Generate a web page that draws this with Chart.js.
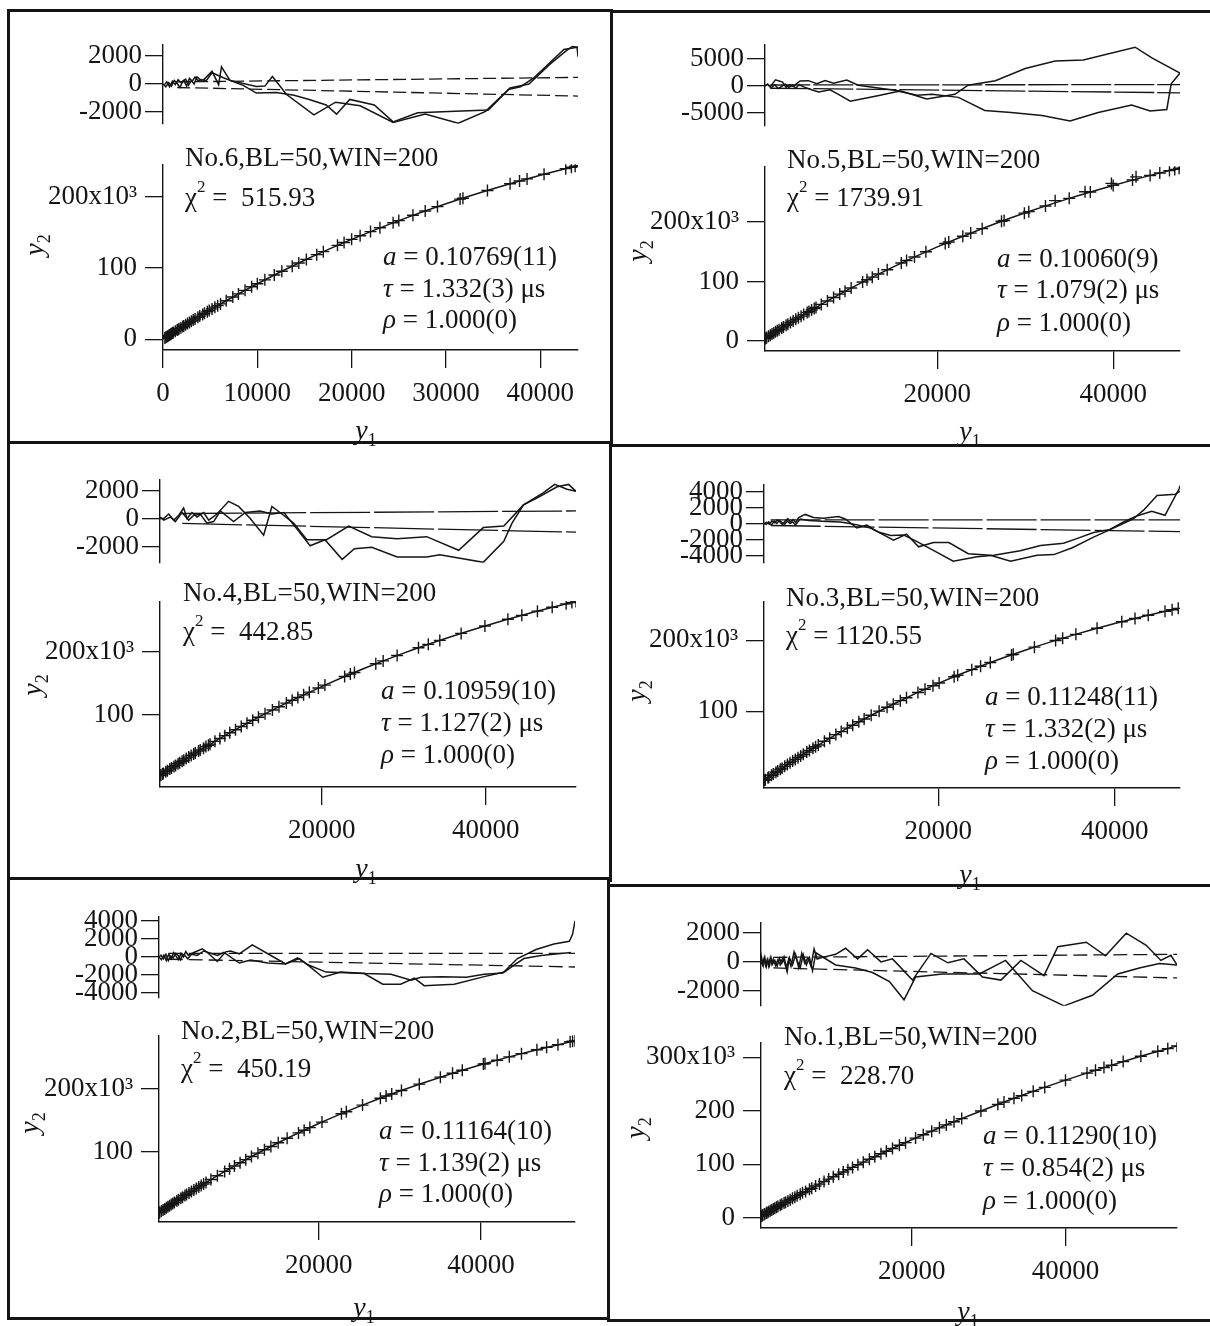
<!DOCTYPE html>
<html>
<head>
<meta charset="utf-8">
<title>fits</title>
<script src="https://cdn.jsdelivr.net/npm/chart.js@4.4.1/dist/chart.umd.min.js"></script>
<style>
  html, body { margin: 0; padding: 0; background: #fff; }
  #page { position: relative; width: 1210px; height: 1326px; overflow: hidden; background: #fff;
          font-family: "Liberation Serif", "Times New Roman", serif; color: #151515; }
  #page canvas { position: absolute; }
  .bar { position: absolute; background: #151515; }
  .note { position: absolute; font-size: 27px; line-height: 30px; height: 30px; white-space: nowrap; z-index: 5; }
  .note sup { font-size: 17px; line-height: 0; vertical-align: 14px; }
  .lab { position: absolute; font-size: 28px; line-height: 30px; width: 40px; height: 30px; text-align: center; white-space: nowrap; z-index: 5; }
  .lab sub { font-size: 18px; font-style: normal; line-height: 0; vertical-align: -7px; }
  .rot { transform: rotate(-90deg); }
</style>
</head>
<body>
<div id="page"></div>
<script>
// ---- panel No.6 (top left) ----
const p6X = [200,400,600,800,1000,1300,1600,1900,2200,2600,3000,3400,3900,4400,4900,5500,6100,6700,7400,8000,8700,9400,10000,10800,11800,12600,13700,14400,15200,16300,17000,18500,19200,20000,20900,22000,23000,24400,25000,26500,27800,29100,31500,31800,34400,36800,37800,38600,40400,42700,43300,43700];
const p6Y = [1700,3500,5200,6900,8600,11100,13600,16100,18600,21900,25200,28400,32400,36300,40200,44900,49500,53900,59200,63500,68500,73500,77700,83200,89900,95200,102400,106800,111800,118500,122700,131500,135400,139900,144900,150800,156100,163200,166200,173600,179700,185800,196300,197600,208400,217900,221600,224600,231100,239000,241000,242300];
const p6DenseX = [300,500,700,900,1100,1500,1700,2100,2400,2800,3200,3700,4200,4700,5200,5800];
const p6DenseY = [2600,4300,6000,7700,9400,12800,14500,17800,20200,23500,26800,30800,34700,38600,42500,47000];
const p6FitX = [0,2000,5000,10000,15000,20000,25000,30000,35000,40000,44000];
const p6FitY = [0,17000,41000,77700,110600,139900,166200,189800,210800,229700,243300];
const p6ResAx = [100,400,700,1000,1300,1600,1900,2200,2500,2800,3100,3400,3700,4300,5200,5900,6200,7100,9900,10800,11600,13100,16000,18300,20900,24400,27800,31300,34200,36600,37900,39300,42500,43900,44000];
const p6ResAy = [-100,150,-200,200,-50,300,100,250,-150,400,200,500,250,300,900,-50,1230,260,-170,-150,540,-750,-2200,-1300,-1550,-2750,-2150,-2800,-1950,-400,-200,430,2470,2620,1950];
const p6ResBx = [0,300,600,900,1200,1500,1800,2100,2400,2700,3000,3300,3600,4000,4600,5200,6400,8500,9900,12000,13900,15500,17300,18400,19800,22400,24400,27000,31000,34500,36800,38800,41000,42800,43400,44000];
const p6ResBy = [0,-200,100,-150,250,50,-250,200,350,-100,250,0,500,300,250,800,450,-100,-650,-600,-800,-1100,-1500,-2150,-1100,-1500,-2700,-2050,-1950,-1850,-280,0,1400,2400,2680,2620];
const p6BandX = [1500,44000];
const p6BandUp = [150,470];
const p6BandLow = [-250,-860];
const p6ResTicks = [-2000,0,2000];
const p6YTicks = [0,100000,200000];
const p6YLabels = ['0','100','200x10\u00b3'];
const p6XTicks = [0,10000,20000,30000,40000];

// ---- panel No.5 (top right) ----
const p5X = [400,600,1000,1400,1800,2300,2800,3300,3900,4500,5200,5700,6200,6800,7500,8200,8900,9500,10200,11500,12000,12600,13300,14300,15900,16500,17400,18700,20900,21300,22900,23800,25100,27300,27600,29900,30400,32300,33400,35000,36800,37400,39800,40000,42200,42600,44200,45300,46400,47000,47500];
const p5Y = [3900,5800,9600,13400,17200,21800,26400,31000,36400,41700,47800,52100,56400,61500,67300,73000,78800,83700,89100,99100,102900,107300,112500,119800,131000,135200,141300,149900,164000,166500,176100,181400,188900,201200,202600,214900,217500,226900,236000,239800,251000,250500,265000,261600,270600,276000,278300,282400,286500,288500,290400];
const p5DenseX = [500,800,1200,1600,2000,2500,3000,3600,4200,4800,5400,6000];
const p5DenseY = [4800,7700,11500,15300,19000,23600,28200,33600,39000,44300,49400,54600];
const p5FitX = [400,5000,10000,15000,20000,25000,30000,35000,40000,45000,47600];
const p5FitY = [3900,46100,87500,124700,158300,188400,215500,239800,261600,281400,290800];
const p5ResAx = [400,700,1000,1300,1600,2000,2400,2800,3200,3600,4000,4400,5340,6300,7230,8200,9700,11000,15950,18800,22000,23500,26600,30000,33400,36600,42500,44400,47600];
const p5ResAy = [0,300,-200,500,1100,900,700,-300,200,-100,400,900,955,400,955,500,1070,112,-1010,-2420,-1570,112,955,3200,4610,4780,7140,5170,2360];
const p5ResBx = [400,700,1100,1500,1900,2300,2700,3100,3500,3900,4300,4800,5700,6500,7800,8750,10100,13500,15600,17700,19400,22400,25400,28400,31900,35100,38300,42100,44200,46100,46600,47600];
const p5ResBy = [0,300,-400,200,-500,-100,300,-300,100,-400,200,-200,-730,-1120,-730,-1570,-2860,-1740,-1010,-1740,-1570,-2140,-4550,-4950,-5510,-6520,-4950,-3540,-4660,-4380,360,2360];
const p5BandX = [1000,47600];
const p5BandUp = [150,230];
const p5BandLow = [-450,-1290];
const p5ResTicks = [-5000,0,5000];
const p5YTicks = [0,100000,200000];
const p5YLabels = ['0','100','200x10\u00b3'];
const p5XTicks = [20000,40000];

// ---- panel No.4 (middle left) ----
const p4X = [300,600,1000,1500,2000,2500,3000,3500,4100,4600,5200,5900,6400,7000,7600,8200,8800,9500,10200,10900,11600,12300,13100,14000,14800,15700,16400,17100,17800,18500,19600,20400,22800,23500,24000,26600,27500,29200,31800,33000,34400,37000,39900,42700,44400,46300,48100,49800,50500,51000];
const p4Y = [2600,5200,8700,13000,17200,21400,25600,29700,34600,38600,43400,48900,52800,57300,61900,66400,70900,75900,81000,86000,90900,95700,101200,107200,112500,118300,122800,127200,131500,135800,142400,147100,160800,164600,167300,181100,185700,194200,206600,212100,218400,229600,241400,252100,258400,265100,271300,276800,278900,280700];
const p4DenseX = [400,700,1200,1700,2200,2700,3200,3800,4400,5000,5600,6200];
const p4DenseY = [3500,6100,10400,14700,18900,23100,27200,32100,36900,41700,46400,51100];
const p4FitX = [300,5000,10000,15000,20000,25000,30000,35000,40000,45000,51000];
const p4FitY = [2600,41800,79600,113800,144700,172700,198100,221000,241800,260500,280700];
const p4ResAx = [300,750,1360,1970,2570,3180,3590,4200,4810,5620,6230,7240,8660,9880,11300,12930,13940,15160,16580,18200,20600,23300,26100,29200,32800,36700,39700,42200,44600,47000,48400,49900,51000];
const p4ResAy = [0,0,323,-108,215,753,0,430,108,430,-108,323,1226,860,0,-1183,860,323,-323,-1505,-1505,-538,-1290,-1440,-1290,-2258,-645,-538,968,1828,2430,2086,1935];
const p4ResBx = [300,750,1560,2170,2980,3790,4400,5210,6020,6840,7650,9270,10700,12500,13940,15400,17000,18600,20400,22500,24000,26100,29200,32800,34400,39700,42200,43200,44600,46400,48700,50100,51000];
const p4ResBy = [100,-108,108,-215,430,-108,215,323,-323,-215,538,-215,430,538,323,430,-753,-1935,-1505,-2903,-2150,-2043,-2731,-2731,-2580,-3118,-1613,-323,968,1505,2258,2430,1935];
const p4BandX = [3000,51000];
const p4BandUp = [360,540];
const p4BandLow = [-350,-970];
const p4ResTicks = [-2000,0,2000];
const p4YTicks = [100000,200000];
const p4YLabels = ['100','200x10\u00b3'];
const p4XTicks = [20000,40000];

// ---- panel No.3 (middle right) ----
const p3X = [300,700,1100,1600,2100,2600,3200,3800,4400,5100,5800,6400,7100,7700,8400,9000,9700,10300,11000,11600,12400,13300,14200,14900,15700,16400,17700,18500,19400,20100,21800,22200,23800,24800,25900,28300,28500,30900,33300,34100,35600,38000,40800,42300,43800,45700,46500,47200];
const p3Y = [2600,6100,9600,13900,18100,22200,27200,32000,36800,42300,47700,52300,57500,61900,67000,71200,76100,80200,85000,89000,94200,100000,105600,109900,114800,118900,126400,130900,135900,139600,148500,150600,158500,163300,168500,179300,180100,190200,199700,202800,208300,216800,226000,230700,235300,240700,243000,244900];
const p3DenseX = [400,800,1300,1800,2300,2900,3500,4100,4700,5400,6100];
const p3DenseY = [3500,7000,11300,15500,19700,24700,29600,34400,39100,44500,49800];
const p3FitX = [250,5000,10000,15000,20000,25000,30000,35000,40000,45000,47300];
const p3FitY = [2200,41500,78200,110500,139100,164300,186500,206100,223500,238800,245200];
const p3ResAx = [250,550,850,1150,1450,1750,2050,2350,2650,2950,3250,3550,3850,4170,4920,5860,6990,8700,9450,10780,11910,13000,14930,16400,17770,19470,21200,23400,25900,28200,31200,33100,35200,37600,39100,41000,42500,44200,45700,47300,47400];
const p3ResAy = [0,150,-100,300,100,450,200,-150,300,600,200,500,100,754,1131,754,641,867,566,-566,-189,-943,-2074,-1320,-2903,-2375,-2375,-3770,-3960,-4710,-3960,-3880,-3016,-1697,-943,189,943,1508,1018,4335,4710];
const p3ResBx = [250,500,800,1100,1400,1700,2000,2300,2600,2900,3200,3500,3800,4350,5300,7400,8900,10000,11200,12300,13400,14600,16100,17600,19500,21700,24400,26300,29300,31600,34200,35700,37600,39500,42100,43300,44800,46900,47400];
const p3ResBy = [0,-100,200,-200,300,0,400,100,-100,300,0,200,-200,566,377,264,189,0,-264,-566,-1131,-1508,-1433,-2262,-3393,-4710,-4147,-3960,-3393,-2752,-2450,-1885,-1131,-754,566,1697,3506,3657,4034];
const p3BandX = [1000,47400];
const p3BandUp = [450,450];
const p3BandLow = [-250,-1018];
const p3ResTicks = [-4000,-2000,0,2000,4000];
const p3YTicks = [100000,200000];
const p3YLabels = ['100','200x10\u00b3'];
const p3XTicks = [20000,40000];

// ---- panel No.2 (bottom left) ----
const p2X = [300,600,1000,1400,1800,2200,2700,3200,3700,4300,4900,5500,6100,6700,7500,8400,9000,9600,10300,11000,11700,12500,13300,14100,15000,16100,17500,18200,18900,20400,22800,23400,25400,27600,28300,29000,30200,32400,35000,36500,37700,40300,40500,42000,43500,45000,46900,48100,49500,51000,51300,51600];
const p2Y = [2700,5300,8800,12300,15700,19100,23400,27500,31600,36600,41400,46200,50900,55500,61600,68400,72800,77100,82200,87100,92000,97400,102800,108100,113900,121000,129600,133900,138000,146800,160100,163300,173800,184800,188200,191500,197100,207100,218200,224400,229100,239000,239800,245200,250500,255600,261800,265600,269900,274400,275300,276200];
const p2DenseX = [400,800,1200,1600,2000,2500,3000,3500,4000,4600,5200,5800];
const p2DenseY = [3500,7100,10500,14000,17400,21700,25800,30000,34100,38900,43700,48400];
const p2FitX = [300,5000,10000,15000,20000,25000,30000,35000,40000,45000,51600];
const p2FitY = [2700,42200,80000,113900,144500,171700,196200,218200,237900,255600,276200];
const p2ResAx = [300,600,900,1200,1500,1800,2100,2400,2700,3000,3300,3600,3900,4600,5640,6260,7490,8520,9140,10200,11800,14100,15900,17400,18600,20500,22700,25800,28900,31400,32600,35100,38200,40400,42700,44500,46800,49000,50900,51300,51600];
const p2ResAy = [0,-300,200,-400,300,-200,500,100,-300,400,0,600,200,504,907,504,-504,571,672,336,1344,168,-773,-101,-840,-2251,-1680,-1848,-1915,-2587,-2251,-2184,-2251,-1915,-1781,-168,840,1445,1747,2520,4032];
const p2ResBx = [300,550,850,1150,1450,1750,2050,2350,2650,2950,3250,3550,3850,4300,5000,5840,7490,8310,10200,11600,13700,15900,17600,18600,20900,25600,27900,30100,31800,33000,36700,40400,42900,43900,45300,47400,51100];
const p2ResBy = [0,200,-200,300,-400,100,-100,400,200,-300,300,100,-200,300,168,672,168,504,-672,-336,-672,-773,-168,-840,-1680,-1848,-3024,-3024,-2352,-3192,-3024,-2184,-1680,-1008,-168,168,504];
const p2BandX = [1500,51600];
const p2BandUp = [400,400];
const p2BandLow = [-250,-1110];
const p2ResTicks = [-4000,-2000,0,2000,4000];
const p2YTicks = [100000,200000];
const p2YLabels = ['100','200x10\u00b3'];
const p2XTicks = [20000,40000];

// ---- panel No.1 (bottom right) ----
const p1X = [400,600,900,1200,1600,2000,2400,2900,3400,3900,4500,5100,5800,6700,7500,8000,8600,9200,9800,10500,11100,11700,12300,13000,13700,14500,15200,16000,16700,17500,18400,19200,20500,21500,22600,23600,24500,25500,26500,29000,31200,32000,33300,34300,35800,37300,40000,42800,43900,45000,46000,47500,49800,52000,53300,54500];
const p1Y = [3300,5000,7500,9900,13200,16500,19700,23700,27800,31800,36600,41400,46900,53300,59700,63100,67900,72500,76900,81500,85800,90100,94300,99200,104100,109500,114100,119800,124400,129600,135600,140500,149000,155200,162000,168100,173600,179400,185400,199700,212000,216200,223200,228300,236300,243600,257200,270300,275700,280600,285000,291800,301700,311000,316100,321100];
const p1DenseX = [500,800,1100,1400,1800,2200,2600,3100,3600,4200,4800,5500,6200,7000];
const p1DenseY = [4100,6600,9100,11500,14800,18000,21300,25300,29200,34000,38700,44100,49400,55500];
const p1FitX = [400,5000,10000,15000,20000,25000,30000,35000,40000,45000,50000,54500];
const p1FitY = [3300,40200,77900,113000,145900,176600,205300,232200,257200,280600,302600,321100];
const p1ResAx = [400,600,800,1000,1200,1400,1600,1800,2000,2300,2600,2900,3200,3500,3800,4100,4500,4900,5300,5700,6100,6500,6900,7300,7700,8410,10100,11400,12960,14260,16000,17500,20100,22500,24700,26800,29200,31600,34200,37200,39000,42700,45200,47900,50500,52400,53700,54500];
const p1ResAy = [0,-200,250,-250,150,-300,250,-150,200,-250,150,-200,250,-100,-700,300,-200,500,-400,600,-100,300,-300,900,200,316,526,947,210,842,0,210,-1263,589,-63,210,-1053,-1263,105,-947,1053,1368,421,2000,1158,105,463,-210];
const p1ResBx = [400,500,700,900,1100,1300,1500,1700,1900,2200,2500,2800,3100,3400,3700,4000,4300,4700,5100,5500,5900,6300,6700,7100,7540,10100,12700,14900,17100,19000,20500,24000,28800,32200,35700,39800,43500,46800,49600,52200,54500];
const p1ResBy = [0,250,-250,300,-300,150,-250,300,-150,100,-300,250,-100,350,-400,200,-300,700,100,-400,500,-200,300,-600,632,-210,-421,-737,-1368,-2631,-1053,-842,-842,105,-2000,-3052,-2316,-842,-421,-105,-210];
const p1BandX = [2000,54500];
const p1BandUp = [316,526];
const p1BandLow = [-421,-1116];
const p1ResTicks = [-2000,0,2000];
const p1YTicks = [0,100000,200000,300000];
const p1YLabels = ['0','100','200','300x10\u00b3'];
const p1XTicks = [20000,40000];

const FONT = '"Liberation Serif", "Times New Roman", serif';
const INK = '#151515';
const YW = 150;    // width kept for the y axis block
const page = document.getElementById('page');

// where each panel sits on the page (pixels) and its axis ranges
const panels = [
  { ax:163, right:578, rTop:40, rBot:128, rMin:-2840, rMax:2840, mTop:160, mBot:350, yMin:-15100, yMax:245200, xMin:0, xMax:44000,
    X:p6X, Y:p6Y, dx:p6DenseX, dy:p6DenseY, fx:p6FitX, fy:p6FitY, ra:[p6ResAx,p6ResAy], rb:[p6ResBx,p6ResBy], band:[p6BandX,p6BandUp,p6BandLow], dash:[13,5],
    rt:p6ResTicks, yt:p6YTicks, yl:p6YLabels, xt:p6XTicks,
    name:'No.6,BL=50,WIN=200', chi:'&nbsp;515.93', a:'0.10769(11)', tau:'1.332(3)', rho:'1.000(0)',
    tx:185, ty:[157,197,256,288,319], ax2:383, y2:[34,245], y1:[366,430] },
  { ax:765, right:1180, rTop:40, rBot:130, rMin:-7400, rMax:7700, mTop:162, mBot:351, yMin:-16900, yMax:293900, xMin:400, xMax:47600,
    X:p5X, Y:p5Y, dx:p5DenseX, dy:p5DenseY, fx:p5FitX, fy:p5FitY, ra:[p5ResAx,p5ResAy], rb:[p5ResBx,p5ResBy], band:[p5BandX,p5BandUp,p5BandLow], dash:[40,3],
    rt:p5ResTicks, yt:p5YTicks, yl:p5YLabels, xt:p5XTicks,
    name:'No.5,BL=50,WIN=200', chi:'1739.91', a:'0.10060(9)', tau:'1.079(2)', rho:'1.000(0)',
    tx:787, ty:[159,197,258,289,322], ax2:997, y2:[637,251], y1:[970,431] },
  { ax:160, right:576, rTop:475, rBot:567, rMin:-3150, rMax:2800, mTop:597, mBot:787, yMin:-15600, yMax:281000, xMin:300, xMax:51000,
    X:p4X, Y:p4Y, dx:p4DenseX, dy:p4DenseY, fx:p4FitX, fy:p4FitY, ra:[p4ResAx,p4ResAy], rb:[p4ResBx,p4ResBy], band:[p4BandX,p4BandUp,p4BandLow], dash:[60,4],
    rt:p4ResTicks, yt:p4YTicks, yl:p4YLabels, xt:p4XTicks,
    name:'No.4,BL=50,WIN=200', chi:'&nbsp;442.85', a:'0.10959(10)', tau:'1.127(2)', rho:'1.000(0)',
    tx:183, ty:[592,631,690,722,754], ax2:381, y2:[32,685], y1:[366,868] },
  { ax:764, right:1180, rTop:480, rBot:567, rMin:-4900, rMax:4900, mTop:597, mBot:788, yMin:-8300, yMax:255000, xMin:250, xMax:47400,
    X:p3X, Y:p3Y, dx:p3DenseX, dy:p3DenseY, fx:p3FitX, fy:p3FitY, ra:[p3ResAx,p3ResAy], rb:[p3ResBx,p3ResBy], band:[p3BandX,p3BandUp,p3BandLow], dash:[50,4],
    rt:p3ResTicks, yt:p3YTicks, yl:p3YLabels, xt:p3XTicks,
    name:'No.3,BL=50,WIN=200', chi:'1120.55', a:'0.11248(11)', tau:'1.332(2)', rho:'1.000(0)',
    tx:786, ty:[597,635,696,728,760], ax2:985, y2:[636,691], y1:[970,874] },
  { ax:159, right:575, rTop:912, rBot:1002, rMin:-4540, rMax:4540, mTop:1031, mBot:1222, yMin:-12000, yMax:284900, xMin:300, xMax:51600,
    X:p2X, Y:p2Y, dx:p2DenseX, dy:p2DenseY, fx:p2FitX, fy:p2FitY, ra:[p2ResAx,p2ResAy], rb:[p2ResBx,p2ResBy], band:[p2BandX,p2BandUp,p2BandLow], dash:[14,6],
    rt:p2ResTicks, yt:p2YTicks, yl:p2YLabels, xt:p2XTicks,
    name:'No.2,BL=50,WIN=200', chi:'&nbsp;450.19', a:'0.11164(10)', tau:'1.139(2)', rho:'1.000(0)',
    tx:181, ty:[1030,1068,1130,1162,1193], ax2:379, y2:[29,1123], y1:[364,1307] },
  { ax:761, right:1177, rTop:918, rBot:1010, rMin:-3050, rMax:2760, mTop:1038, mBot:1228, yMin:-18800, yMax:328000, xMin:400, xMax:54500,
    X:p1X, Y:p1Y, dx:p1DenseX, dy:p1DenseY, fx:p1FitX, fy:p1FitY, ra:[p1ResAx,p1ResAy], rb:[p1ResBx,p1ResBy], band:[p1BandX,p1BandUp,p1BandLow], dash:[14,6],
    rt:p1ResTicks, yt:p1YTicks, yl:p1YLabels, xt:p1XTicks,
    name:'No.1,BL=50,WIN=200', chi:'&nbsp;228.70', a:'0.11290(10)', tau:'0.854(2)', rho:'1.000(0)',
    tx:784, ty:[1036,1075,1135,1167,1200], ax2:983, y2:[635,1128], y1:[968,1311] }
];

function pts(xs, ys) {
  return xs.map((x, i) => ({ x: x, y: ys[i] }));
}

function canvasAt(left, top, w, h) {
  const c = document.createElement('canvas');
  c.width = w; c.height = h;
  c.style.left = left + 'px'; c.style.top = top + 'px';
  c.style.width = w + 'px'; c.style.height = h + 'px';
  page.appendChild(c);
  return c;
}

function tickAxis(vals, labels, extra) {
  const ax = {
    type: 'linear',
    afterBuildTicks: a => { a.ticks = vals.map(v => ({ value: v })); },
    ticks: {
      autoSkip: false, maxRotation: 0, minRotation: 0, color: INK,
      font: { family: FONT, size: 27 },
      callback: v => labels[vals.indexOf(v)]
    },
    grid: { drawOnChartArea: false, drawTicks: true, tickLength: 18, color: INK, lineWidth: 1.3 },
    border: { display: true, color: INK, width: 1.4 }
  };
  return Object.assign(ax, extra);
}

function baseOptions(pad, scales) {
  return {
    responsive: false, animation: false, devicePixelRatio: 1,
    layout: { padding: pad, autoPadding: false },
    plugins: { legend: { display: false }, tooltip: { enabled: false } },
    scales: scales
  };
}

function line(data, dash, w) {
  return { data: data, showLine: true, borderColor: INK, borderWidth: w, pointRadius: 0, borderDash: dash || [] };
}

function crosses(data) {
  return { data: data, showLine: false, pointStyle: 'cross', pointRadius: 6,
           pointBorderWidth: 1.4, pointBorderColor: INK, borderColor: INK };
}

panels.forEach(p => {
  // residual strip
  const rc = canvasAt(p.ax - YW, p.rTop - 15, YW + (p.right - p.ax) + 10, (p.rBot - p.rTop) + 30);
  const rLabels = p.rt.map(v => String(v));
  new Chart(rc, {
    type: 'scatter',
    data: { datasets: [
      line(pts(p.band[0], p.band[1]), p.dash, 1.3),
      line(pts(p.band[0], p.band[2]), p.dash, 1.3),
      line(pts(p.ra[0], p.ra[1]), null, 1.5),
      line(pts(p.rb[0], p.rb[1]), null, 1.5)
    ] },
    options: baseOptions({ top: 15, bottom: 15, right: 10, left: 0 }, {
      x: { type: 'linear', display: false, min: p.xMin, max: p.xMax },
      y: tickAxis(p.rt, rLabels, { min: p.rMin, max: p.rMax, afterFit: a => { a.width = YW; } })
    })
  });

  // main y2 vs y1 plot
  const mc = canvasAt(p.ax - YW, p.mTop - 20, YW + (p.right - p.ax) + 12, (p.mBot - p.mTop) + 20 + 75);
  const xLabels = p.xt.map(v => String(v));
  const yAx = tickAxis(p.yt, p.yl, { min: p.yMin, max: p.yMax, afterFit: a => { a.width = YW; } });
  yAx.ticks.padding = 8;
  const xAx = tickAxis(p.xt, xLabels, { position: 'bottom', min: p.xMin, max: p.xMax, afterFit: a => { a.height = 75; } });
  xAx.ticks.padding = 10;
  new Chart(mc, {
    type: 'scatter',
    data: { datasets: [
      Object.assign(line(pts(p.fx, p.fy), null, 1.5), { cubicInterpolationMode: 'monotone' }),
      crosses(pts(p.X, p.Y)),
      crosses(pts(p.dx, p.dy))
    ] },
    options: baseOptions({ top: 20, bottom: 0, right: 12, left: 0 }, { x: xAx, y: yAx })
  });

  // annotations
  const notes = [
    [p.tx, p.ty[0], p.name],
    [p.tx, p.ty[1], '\u03c7<sup>2</sup> = ' + p.chi],
    [p.ax2, p.ty[2], '<i>a</i> = ' + p.a],
    [p.ax2, p.ty[3], '<i>\u03c4</i> = ' + p.tau + ' \u03bcs'],
    [p.ax2, p.ty[4], '<i>\u03c1</i> = ' + p.rho]
  ];
  notes.forEach(n => {
    const d = document.createElement('div');
    d.className = 'note';
    d.style.left = n[0] + 'px';
    d.style.top = (n[1] - 15) + 'px';
    d.innerHTML = n[2];
    page.appendChild(d);
  });
  const l2 = document.createElement('div');
  l2.className = 'lab rot';
  l2.style.left = (p.y2[0] - 20) + 'px';
  l2.style.top = (p.y2[1] - 15) + 'px';
  l2.innerHTML = '<i>y</i><sub>2</sub>';
  page.appendChild(l2);
  const l1 = document.createElement('div');
  l1.className = 'lab';
  l1.style.left = (p.y1[0] - 20) + 'px';
  l1.style.top = (p.y1[1] - 15) + 'px';
  l1.innerHTML = '<i>y</i><sub>1</sub>';
  page.appendChild(l1);
});

// panel frame
const frame = [
  [8,9,604,3],[611,10,599,3],[7,9,3,1311],
  [610,9,3,436],[609,444,3,438],[607,880,3,441],
  [8,441,603,3],[611,444,599,3],
  [8,877,603,3],[610,884,600,3],
  [8,1317,602,3],[607,1319,603,3]
];
frame.forEach(r => {
  const b = document.createElement('div');
  b.className = 'bar';
  b.style.left = r[0] + 'px'; b.style.top = r[1] + 'px';
  b.style.width = r[2] + 'px'; b.style.height = r[3] + 'px';
  page.appendChild(b);
});
</script>
</body>
</html>
